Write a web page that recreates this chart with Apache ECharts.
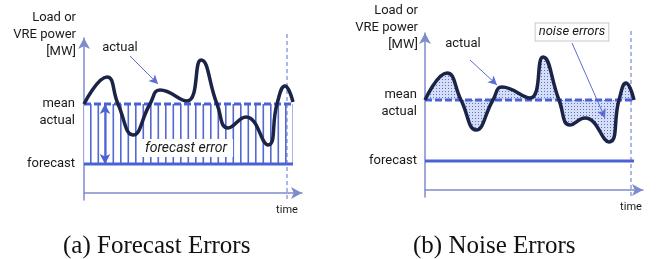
<!DOCTYPE html>
<html>
<head>
<meta charset="utf-8">
<script src="https://cdn.jsdelivr.net/npm/echarts@6/dist/echarts.min.js"></script>
<style>
html, body { margin: 0; padding: 0; background: #fff; }
#chart { width: 662px; height: 259px; }
</style>
</head>
<body>
<div id="chart"></div>
<script>
// (a) forecast errors - schematic values in px-like units
var actualA = [[0,89],[23,116],[34,89],[49,58],[66,89],[76,103],[103,92],[117,133],[133,89],[144,65],[162,76],[184,48],[193,89],[201,107],[209,91]];
var meanA = 89, forecastA = 29, endA = 209, horizonA = 203;
var yTicksA = [89, 72, 29];
var xTicksA = [203];

// (b) noise errors
var actualB = [[0,90],[22,117],[36,90],[51,60],[68,90],[77,103],[105,92],[118,133],[134,90],[145,65],[160,72],[184,48],[194,90],[201,107],[209,90]];
var meanB = 90, forecastB = 29, endB = 209, horizonB = 206;
var yTicksB = [95, 78, 29];
var xTicksB = [206];

var yLabels = ['mean', 'actual', 'forecast'];
var xLabels = ['time'];

var blue = '#4a62d4';
var navy = '#1b2446';
var axisCol = '#7f8ccc';
var txt = '#1a1a1a';
var font = 'Roboto';

function makePattern(kind) {
    var c = document.createElement('canvas');
    var ctx = c.getContext('2d');
    if (kind === 'hatch') {
        c.width = 7.5 * 2; c.height = 4;
        ctx.fillStyle = '#ffffff';
        ctx.fillRect(0, 0, c.width, c.height);
        ctx.fillStyle = '#5468d4';
        ctx.fillRect(0, 0, 1.6, 4);
        ctx.fillRect(7.5, 0, 1.6, 4);
    } else {
        c.width = 3; c.height = 3;
        ctx.fillStyle = '#d6def6';
        ctx.fillRect(0, 0, 3, 3);
        ctx.fillStyle = '#5b70d0';
        ctx.fillRect(1, 1, 1, 1);
    }
    return { image: c, repeat: 'repeat' };
}

function yAxisFor(idx, ticks, gap, pad) {
    return {
        type: 'value', gridIndex: idx,
        min: -7, max: idx === 0 ? 155 : 157,
        name: 'Load or\nVRE power\n[MW]',
        nameLocation: 'end', nameGap: gap,
        nameTextStyle: { align: 'right', verticalAlign: 'middle', lineHeight: 17, padding: [0, pad, 0, 0], color: txt, fontFamily: font, fontSize: 13 },
        axisLine: { show: true, symbol: ['none', 'arrow'], symbolSize: [9, 11], lineStyle: { color: axisCol, width: 1.5 } },
        axisTick: { show: false },
        splitLine: { show: false },
        axisLabel: {
            customValues: ticks, margin: idx === 0 ? 9 : 8,
            color: txt, fontFamily: font, fontSize: 13,
            formatter: function (v) { return yLabels[ticks.indexOf(v)]; }
        }
    };
}

function xAxisFor(idx, ticks) {
    return {
        type: 'value', gridIndex: idx, min: 0, max: 218,
        axisLine: { show: true, onZero: true, symbol: ['none', 'arrow'], symbolSize: [9, 11], lineStyle: { color: axisCol, width: 1.5 } },
        axisTick: { show: false },
        splitLine: { show: false },
        axisLabel: {
            customValues: ticks, margin: 5,
            color: txt, fontFamily: font, fontSize: 11,
            formatter: function () { return xLabels[0]; }
        }
    };
}

function flat(y, end) { return [[0, y], [end, y]]; }

function label(coord, text, extra) {
    var l = { show: true, formatter: text, color: txt, fontFamily: font, fontSize: 13, position: 'inside' };
    for (var k in extra) l[k] = extra[k];
    return { coord: coord, symbol: 'rect', symbolSize: 1, itemStyle: { color: 'rgba(0,0,0,0)' }, label: l };
}

var captionStyle = { fontFamily: 'Liberation Serif', fontSize: 25, fontWeight: 'normal', color: '#111' };

var option = {
    animation: false,
    backgroundColor: '#fff',
    title: [
        { text: '(a) Forecast Errors', left: 58, top: 229, textStyle: captionStyle },
        { text: '(b) Noise Errors', left: 408, top: 229, textStyle: captionStyle }
    ],
    grid: [
        { left: 84, top: 38, width: 218, height: 162 },
        { left: 425, top: 33, width: 218, height: 164 }
    ],
    xAxis: [xAxisFor(0, xTicksA), xAxisFor(1, xTicksB)],
    yAxis: [yAxisFor(0, yTicksA, 3, 8), yAxisFor(1, yTicksB, 5, 7)],
    series: [
        // (a) hatched block between forecast and mean
        { type: 'line', xAxisIndex: 0, yAxisIndex: 0, data: flat(meanA, endA), symbol: 'none', lineStyle: { width: 0 },
          areaStyle: { origin: forecastA, color: makePattern('hatch'), opacity: 1 }, z: 1 },
        { type: 'line', xAxisIndex: 0, yAxisIndex: 0, data: flat(forecastA, endA), symbol: 'none', lineStyle: { color: blue, width: 3 }, z: 2,
          markLine: { silent: true, symbol: ['arrow', 'arrow'], symbolSize: [8, 10], label: { show: false },
              lineStyle: { color: blue, width: 1.5, type: 'solid' },
              data: [[{ coord: [21, meanA] }, { coord: [21, forecastA] }]] },
          markPoint: { silent: true, data: [label([102, 45], 'forecast error', { fontStyle: 'italic', fontSize: 14, backgroundColor: '#fff', padding: [2, 6, 2, 6] })] } },
        { type: 'line', xAxisIndex: 0, yAxisIndex: 0, data: flat(meanA, endA), symbol: 'none', lineStyle: { color: blue, width: 3, type: [7, 3] }, z: 3 },
        { type: 'line', xAxisIndex: 0, yAxisIndex: 0, data: [[horizonA, -6], [horizonA, 160]], symbol: 'none', clip: false, lineStyle: { color: '#5b6fd0', width: 1, type: [4, 3] }, z: 3 },
        { type: 'line', xAxisIndex: 0, yAxisIndex: 0, data: actualA, smooth: 0.5, symbol: 'none', clip: false, lineStyle: { color: navy, width: 3.5 }, z: 5,
          markLine: { silent: true, symbol: ['none', 'arrow'], symbolSize: [7, 9], label: { show: false },
              lineStyle: { color: '#5b6fd0', width: 1, type: 'solid', curveness: -0.35 },
              data: [[{ coord: [46, 137] }, { coord: [74, 109] }]] },
          markPoint: { silent: true, data: [label([36, 145], 'actual')] } },

        // (b) dotted area between actual and mean
        { type: 'line', xAxisIndex: 1, yAxisIndex: 1, data: actualB, smooth: 0.5, symbol: 'none', lineStyle: { width: 0 },
          areaStyle: { origin: meanB, color: makePattern('dots'), opacity: 1 }, z: 1 },
        { type: 'line', xAxisIndex: 1, yAxisIndex: 1, data: flat(forecastB, endB), symbol: 'none', lineStyle: { color: blue, width: 3 }, z: 2 },
        { type: 'line', xAxisIndex: 1, yAxisIndex: 1, data: flat(meanB, endB), symbol: 'none', lineStyle: { color: blue, width: 3, type: [7, 3] }, z: 3 },
        { type: 'line', xAxisIndex: 1, yAxisIndex: 1, data: [[horizonB, -6], [horizonB, 162]], symbol: 'none', clip: false, lineStyle: { color: '#5b6fd0', width: 1, type: [4, 3] }, z: 3 },
        { type: 'line', xAxisIndex: 1, yAxisIndex: 1, data: actualB, smooth: 0.5, symbol: 'none', clip: false, lineStyle: { color: navy, width: 3.5 }, z: 5,
          markLine: { silent: true, symbol: ['none', 'arrow'], symbolSize: [7, 9], label: { show: false },
              lineStyle: { color: '#5b6fd0', width: 1, type: 'solid', curveness: 0.35 },
              data: [[{ coord: [45, 130] }, { coord: [72, 105] }], [{ coord: [147, 147] }, { coord: [180, 72] }]] },
          markPoint: { silent: true, data: [
              label([38, 146], 'actual'),
              label([147, 150], 'noise errors', { fontStyle: 'italic', fontSize: 13, backgroundColor: '#fff', borderColor: '#c8c8c8', borderWidth: 1, padding: [2, 3, 2, 3], offset: [0, -8] })
          ] } }
    ]
};

var myChart = echarts.init(document.getElementById('chart'));
myChart.setOption(option);
</script>
</body>
</html>
